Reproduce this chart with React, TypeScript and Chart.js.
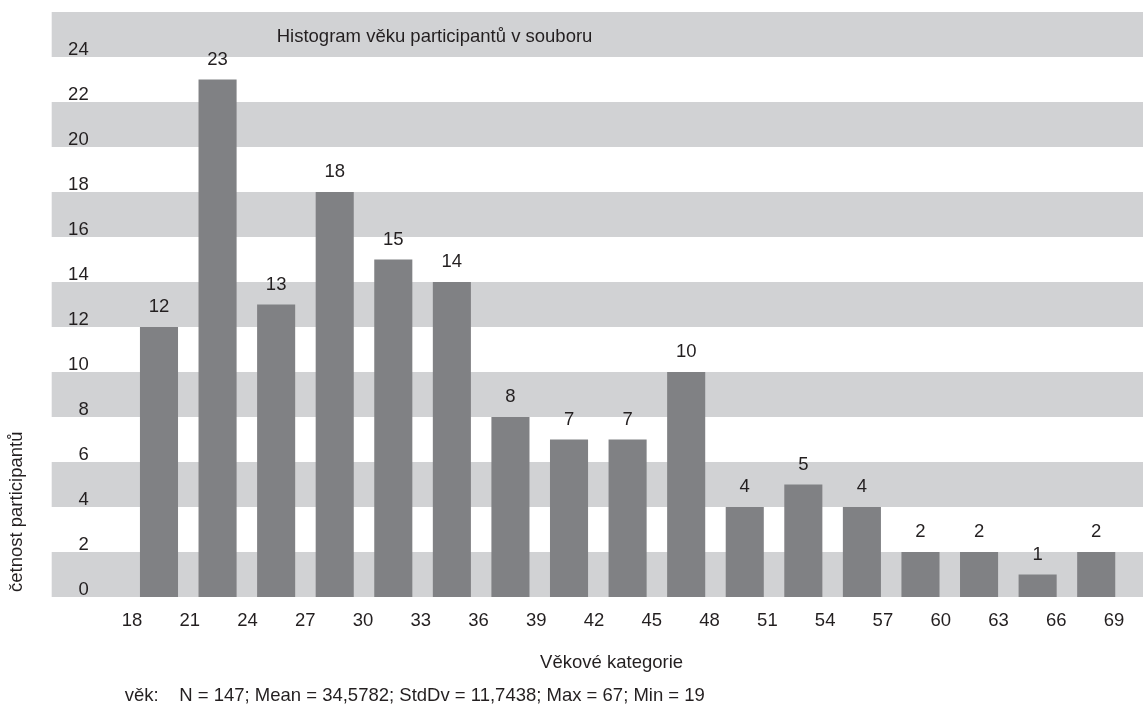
import React, { useEffect, useRef } from 'react';
import { Chart, registerables } from 'chart.js';

Chart.register(...registerables);

// ---- data ----
const BIN_STARTS = [18, 21, 24, 27, 30, 33, 36, 39, 42, 45, 48, 51, 54, 57, 60, 63, 66];
const BIN_WIDTH = 3;
const COUNTS = [12, 23, 13, 18, 15, 14, 8, 7, 7, 10, 4, 5, 4, 2, 2, 1, 2];
const X_TICKS = [18, 21, 24, 27, 30, 33, 36, 39, 42, 45, 48, 51, 54, 57, 60, 63, 66, 69];
const Y_TICKS = [0, 2, 4, 6, 8, 10, 12, 14, 16, 18, 20, 22, 24];
const Y_MAX = 26;
const TITLE = 'Histogram věku participantů v souboru';
const Y_TITLE = 'četnost participantů';
const X_TITLE = 'Věkové kategorie';
const FOOTER = 'věk:    N = 147; Mean = 34,5782; StdDv = 11,7438; Max = 67; Min = 19';

// ---- style ----
const FONT_FAMILY = '"Liberation Sans", Arial, Helvetica, sans-serif';
const FONT_SIZE = 18.5;
const TEXT_COLOR = '#231f20';
const BAR_COLOR = '#808184';
const BAND_COLOR = '#d1d2d4';

const bandsPlugin = {
  id: 'bands',
  beforeDraw(chart: any) {
    const { ctx, chartArea, scales } = chart;
    const y = scales.y;
    const left = chartArea.left - 78;
    ctx.save();
    ctx.fillStyle = BAND_COLOR;
    for (let v = 0; v < Y_MAX; v += 4) {
      const top = y.getPixelForValue(v + 2);
      const bottom = y.getPixelForValue(v);
      ctx.fillRect(left, top, chart.width - left, bottom - top);
    }
    ctx.restore();
  },
};

const textPlugin = {
  id: 'texts',
  afterDatasetsDraw(chart: any) {
    const { ctx } = chart;
    const meta = chart.getDatasetMeta(0);
    ctx.save();
    ctx.fillStyle = TEXT_COLOR;
    ctx.font = `${FONT_SIZE}px ${FONT_FAMILY}`;
    ctx.textAlign = 'center';
    ctx.textBaseline = 'alphabetic';
    meta.data.forEach((bar: any, i: number) => {
      ctx.fillText(String(COUNTS[i]), bar.x, bar.y - 15);
    });
    ctx.restore();
  },
  afterDraw(chart: any) {
    const { ctx, chartArea } = chart;
    ctx.save();
    ctx.fillStyle = TEXT_COLOR;
    ctx.font = `${FONT_SIZE}px ${FONT_FAMILY}`;
    ctx.textBaseline = 'alphabetic';
    ctx.textAlign = 'left';
    ctx.fillText(TITLE, chartArea.left + 147, chartArea.top + 30);
    ctx.textAlign = 'center';
    ctx.fillText(X_TITLE, (chartArea.left + chartArea.right) / 2 - 16, chartArea.bottom + 71);
    ctx.textAlign = 'left';
    ctx.fillText(FOOTER, chartArea.left - 5, chartArea.bottom + 104);
    // rotated y-axis title
    ctx.translate(chartArea.left - 112.5, chartArea.bottom - 5);
    ctx.rotate(-Math.PI / 2);
    ctx.textAlign = 'left';
    ctx.textBaseline = 'middle';
    ctx.fillText(Y_TITLE, 0, 0);
    ctx.restore();
  },
};

export default function App() {
  const ref = useRef<HTMLCanvasElement>(null);

  useEffect(() => {
    document.body.style.margin = '0';
    const font = { family: FONT_FAMILY, size: FONT_SIZE };
    const chart = new Chart(ref.current as HTMLCanvasElement, {
      type: 'bar',
      data: {
        datasets: [
          {
            data: BIN_STARTS.map((s, i) => ({ x: s + BIN_WIDTH / 2, y: COUNTS[i] })),
            backgroundColor: BAR_COLOR,
            borderWidth: 0,
            barPercentage: 0.65,
            categoryPercentage: 1,
            xAxisID: 'x',
            yAxisID: 'y',
          },
        ],
      },
      options: {
        animation: false,
        responsive: false,
        layout: { padding: { top: 12, right: 17.5, left: 0, bottom: 0 } },
        plugins: {
          legend: { display: false },
          tooltip: { enabled: false },
          title: { display: false },
        },
        scales: {
          x: {
            type: 'linear',
            min: X_TICKS[0],
            max: X_TICKS[X_TICKS.length - 1],
            offset: false,
            display: false,
            afterBuildTicks: (s: any) => {
              s.ticks = X_TICKS.map((v) => ({ value: v }));
            },
          },
          xt: {
            type: 'linear',
            position: 'bottom',
            min: 17.88,
            max: 69.6,
            offset: false,
            grid: { display: false, drawTicks: false },
            border: { display: false },
            ticks: { autoSkip: false, maxRotation: 0, padding: 13, color: TEXT_COLOR, font },
            afterBuildTicks: (s: any) => {
              s.ticks = X_TICKS.map((v) => ({ value: v }));
            },
            afterFit: (s: any) => {
              s.height = 108;
              s.paddingLeft = 0;
              s.paddingRight = 0;
            },
          },
          y: {
            type: 'linear',
            position: 'left',
            min: 0,
            max: Y_MAX,
            grid: { display: false, drawTicks: false },
            border: { display: false },
            ticks: { padding: 41, labelOffset: -7, crossAlign: 'near', color: TEXT_COLOR, font },
            afterBuildTicks: (s: any) => {
              s.ticks = Y_TICKS.map((v) => ({ value: v }));
            },
            afterFit: (s: any) => {
              s.width = 129.7;
              s.paddingTop = 0;
              s.paddingBottom = 0;
            },
          },
        },
      },
      plugins: [bandsPlugin, textPlugin],
    } as any);
    return () => chart.destroy();
  }, []);

  return <canvas ref={ref} width={1143} height={705} style={{ display: 'block' }} />;
}
